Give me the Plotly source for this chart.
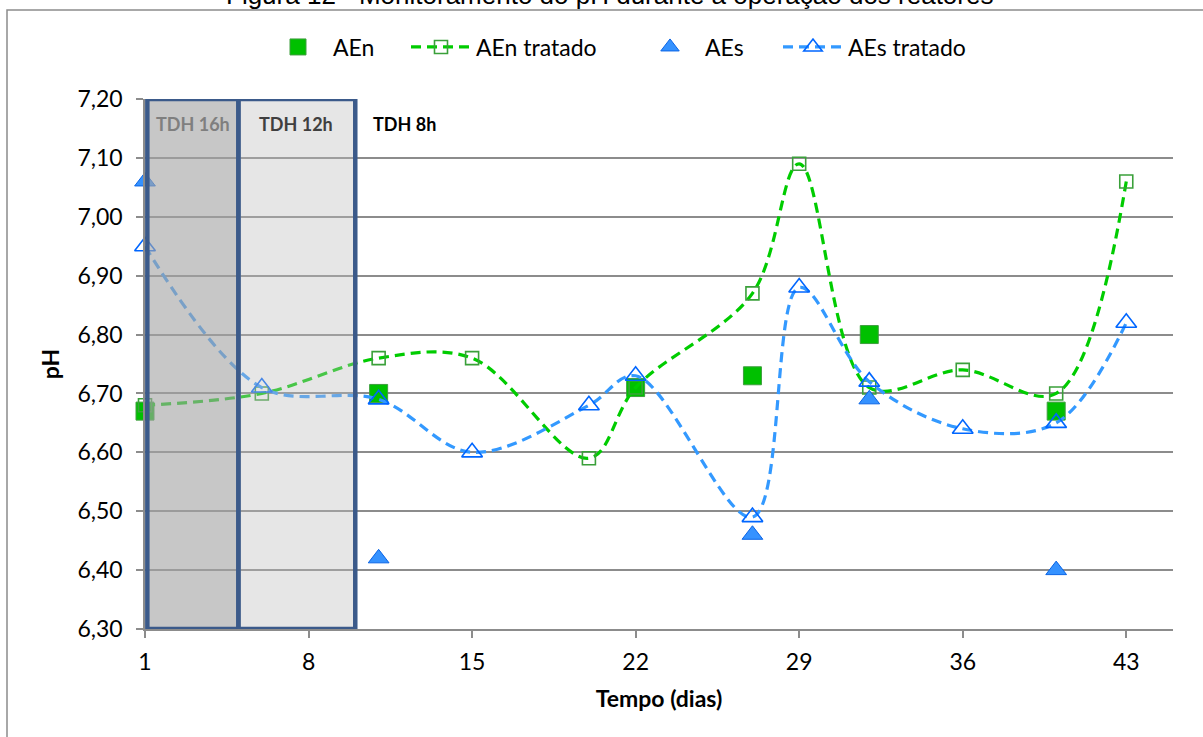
import plotly.graph_objects as go

# Sampling days and pH readings
dias_aen = [1, 11, 22, 27, 32, 40]
ph_aen = [6.67, 6.70, 6.71, 6.73, 6.80, 6.67]

dias_tratado = [1, 6, 11, 15, 20, 22, 27, 29, 32, 36, 40, 43]
ph_aen_tratado = [6.68, 6.70, 6.76, 6.76, 6.59, 6.71, 6.87, 7.09, 6.71, 6.74, 6.70, 7.06]

dias_aes = [1, 11, 27, 32, 40]
ph_aes = [7.06, 6.42, 6.46, 6.69, 6.40]

ph_aes_tratado = [6.95, 6.71, 6.69, 6.60, 6.68, 6.73, 6.49, 6.88, 6.72, 6.64, 6.65, 6.82]

x_ticks = [1, 8, 15, 22, 29, 36, 43]

# Hydraulic retention time phases (TDH)
fase_16h = (1.1, 5.0)
fase_12h = (5.0, 10.0)

FONT = "Lato"
GREEN_LINE = "#00cc00"
BLUE_LINE = "#3399ff"
DASH = "10px,6px"

fig = go.Figure()

fig.add_trace(go.Scatter(
    x=dias_aen, y=ph_aen, name="AEn", mode="markers", legend="legend",
    showlegend=True,
    marker=dict(symbol="square", size=18, color="#00c000",
                line=dict(color="#3e9e3e", width=1)),
    cliponaxis=False,
))
fig.add_trace(go.Scatter(
    x=dias_tratado, y=ph_aen_tratado, name="AEn tratado", mode="lines+markers",
    legend="legend2", showlegend=True,
    line=dict(color=GREEN_LINE, width=3.2, dash=DASH, shape="spline", smoothing=1),
    marker=dict(symbol="square-open", size=13, color="#3aa03a",
                line=dict(color="#3aa03a", width=1.6)),
    cliponaxis=False,
))
fig.add_trace(go.Scatter(
    x=dias_aes, y=ph_aes, name="AEs", mode="markers", legend="legend3",
    showlegend=True,
    marker=dict(symbol="triangle-up", size=18, color="#3592ff",
                line=dict(color="#0a64e6", width=1)),
    cliponaxis=False,
))
fig.add_trace(go.Scatter(
    x=dias_tratado, y=ph_aes_tratado, name="AEs tratado", mode="lines+markers",
    legend="legend4", showlegend=True,
    line=dict(color=BLUE_LINE, width=3.2, dash=DASH, shape="spline", smoothing=1),
    marker=dict(symbol="triangle-up-open", size=18, color="#0066ff",
                line=dict(color="#0066ff", width=1.6)),
    cliponaxis=False,
))

L, R, T, B = 145, 30, 99, 108
W, H = 1203, 737
pw, ph = W - L - R, H - T - B


def px_x(p):
    return (p - L) / pw


def px_y(p):
    return (H - B - p) / ph


legend_font = dict(family=FONT, size=23, color="#000000")
legend_common = dict(orientation="h", yanchor="middle", y=px_y(47), xanchor="left",
                     font=legend_font, bgcolor="rgba(0,0,0,0)", borderwidth=0,
                     itemwidth=60)

shapes = [
    # outer chart frame
    dict(type="rect", xref="paper", yref="paper", x0=px_x(7), x1=px_x(1215),
         y0=px_y(760), y1=px_y(10), line=dict(color="#8c8c8c", width=1.5),
         fillcolor="rgba(0,0,0,0)", layer="below"),
    # TDH phases
    dict(type="rect", xref="x", yref="y", x0=fase_16h[0], x1=fase_16h[1], y0=6.30, y1=7.20,
         fillcolor="rgba(165,165,165,0.62)", line=dict(color="#3b5a8a", width=4.5),
         layer="above"),
    dict(type="rect", xref="x", yref="y", x0=fase_12h[0], x1=fase_12h[1], y0=6.30, y1=7.20,
         fillcolor="rgba(190,190,190,0.38)", line=dict(color="#3b5a8a", width=4.5),
         layer="above"),
]

annotations = [
    dict(text="Figura 12 - Monitoramento do pH durante a operação dos reatores",
         xref="paper", yref="paper", x=px_x(609), y=px_y(-5), xanchor="center",
         yanchor="middle", showarrow=False,
         font=dict(family="Liberation Sans", size=26, color="#000000")),
    dict(text="<b>TDH 16h</b>", xref="paper", yref="paper", x=px_x(193), y=px_y(124),
         xanchor="center", yanchor="middle", showarrow=False,
         font=dict(family=FONT, size=18, color="#7f7f7f")),
    dict(text="<b>TDH 12h</b>", xref="paper", yref="paper", x=px_x(296), y=px_y(124),
         xanchor="center", yanchor="middle", showarrow=False,
         font=dict(family=FONT, size=18, color="#3f3f3f")),
    dict(text="<b>TDH 8h</b>", xref="paper", yref="paper", x=px_x(404), y=px_y(124),
         xanchor="center", yanchor="middle", showarrow=False,
         font=dict(family=FONT, size=18, color="#000000")),
]

fig.update_layout(
    width=W, height=H,
    margin=dict(l=L, r=R, t=T, b=B, pad=0),
    paper_bgcolor="#ffffff", plot_bgcolor="#ffffff",
    separators=",.",
    showlegend=True,
    font=dict(family=FONT, size=23, color="#000000"),
    shapes=shapes,
    annotations=annotations,
    legend=dict(legend_common, x=px_x(263)),
    legend2=dict(legend_common, x=px_x(406)),
    legend3=dict(legend_common, x=px_x(635)),
    legend4=dict(legend_common, x=px_x(778)),
    xaxis=dict(
        range=[1, 45], tickvals=x_ticks, ticktext=[str(v) for v in x_ticks],
        showgrid=False, zeroline=False,
        showline=True, linecolor="#8c8c8c", linewidth=1.5,
        ticks="outside", ticklen=7, tickcolor="#8c8c8c", tickwidth=1.5,
        tickfont=dict(family=FONT, size=23, color="#000000"),
        ticklabelstandoff=5,
        title=dict(text="<b>Tempo (dias)</b>", standoff=17,
                   font=dict(family=FONT, size=23, color="#000000")),
    ),
    yaxis=dict(
        range=[6.30, 7.20], dtick=0.1, tick0=6.3, tickformat=".2f",
        showgrid=True, gridcolor="#8c8c8c", gridwidth=1.5, zeroline=False,
        showline=True, linecolor="#8c8c8c", linewidth=1.5,
        ticks="outside", ticklen=7, tickcolor="#8c8c8c", tickwidth=1.5,
        tickfont=dict(family=FONT, size=23, color="#000000"),
        ticklabelstandoff=9,
        title=dict(text="<b>pH</b>", standoff=11,
                   font=dict(family=FONT, size=23, color="#000000")),
    ),
)

fig.write_html("out.html")
